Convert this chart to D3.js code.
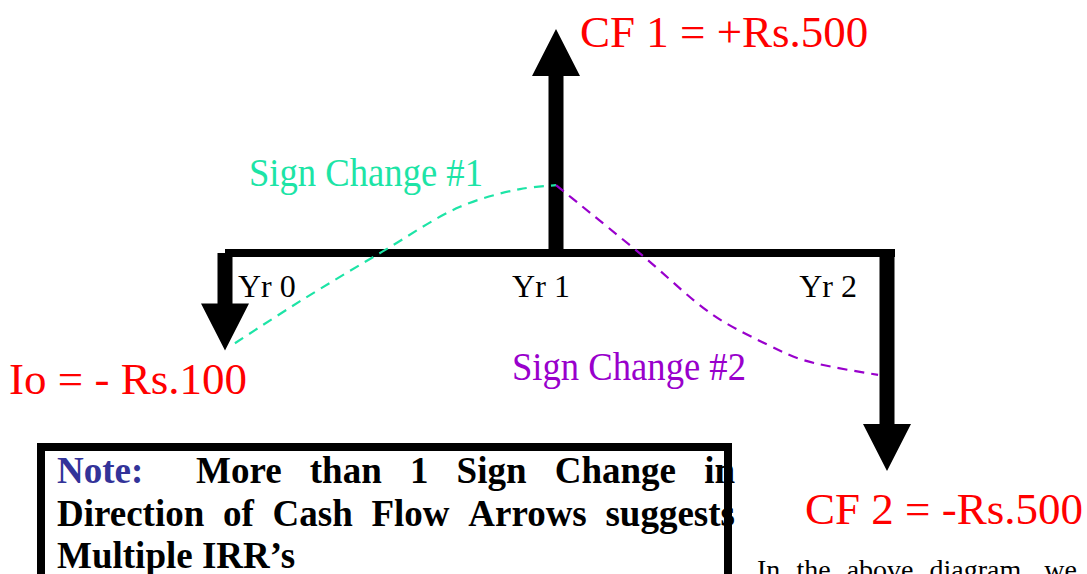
<!DOCTYPE html>
<html>
<head>
<meta charset="utf-8">
<script src="https://cdn.jsdelivr.net/npm/d3@7"></script>
<style>
  body { margin: 0; background: #fff; }
  svg { display: block; }
</style>
</head>
<body>
<div id="drawer"></div>
<script>
// cash flow data
var years = [0, 1, 2];
var yearLabels = ["Yr 0", "Yr 1", "Yr 2"];
var flows = [-100, 500, -500];
var flowLabels = ["Io = - Rs.100", "CF 1 = +Rs.500", "CF 2 = -Rs.500"];

// sign change curves as [year, level]
var signChange1 = [[0.03, -0.414], [0.227, -0.221], [0.474, 0.005], [0.71, 0.212], [0.891, 0.293], [1.0, 0.311]];
var signChange2 = [[1.0, 0.311], [1.066, 0.23], [1.263, -0.014], [1.474, -0.284], [1.637, -0.419], [1.737, -0.486], [1.837, -0.523], [1.973, -0.559]];
var signLabels = ["Sign Change #1", "Sign Change #2"];

var noteLines = [
  ["More", "than", "1", "Sign", "Change", "in"],
  ["Direction", "of", "Cash", "Flow", "Arrows", "suggests"],
  ["Multiple IRR\u2019s"]
];
var bottomWords = ["In", "the", "above", "diagram,", "we"];

var w = 1087, h = 574;
var serif = '"Liberation Serif", "Times New Roman", serif';
var palette = {
  red: "#ff0000",
  teal: "#1de4a6",
  purple: "#9900cc",
  navy: "#333399",
  black: "#000"
};

var vis = d3.select("#drawer").append("svg")
    .attr("width", w)
    .attr("height", h)
    .style("font-family", serif);

var x = d3.scaleLinear().domain([0, 2]).range([225, 887]);
var level = d3.scaleLinear().domain([-1, 1]).range([471, 35]);
var mag = d3.scaleSqrt().domain([0, 500]).range([0, 1]);

var baseY = level(0);
var shaftW = 15, headW = 48, headH = 47, lineW = 8;

function tipY(v) {
  var t = level(Math.sign(v) * mag(Math.abs(v)));
  return v > 0 ? t - 6 : t;
}

// timeline
vis.append("rect")
    .attr("x", x(0))
    .attr("y", baseY - lineW / 2)
    .attr("width", x(2) - x(0) + lineW)
    .attr("height", lineW)
    .style("fill", palette.black);

// arrows
var arrows = vis.selectAll("g.arrow")
    .data(flows)
    .enter()
    .append("g")
    .classed("arrow", true);

arrows.append("path")
    .attr("d", function(d, i) {
      var cx = x(years[i]);
      var t = tipY(d);
      var dir = d < 0 ? 1 : -1;
      var hb = t - dir * headH;
      var p = d3.path();
      p.moveTo(cx - shaftW / 2, baseY);
      p.lineTo(cx + shaftW / 2, baseY);
      p.lineTo(cx + shaftW / 2, hb);
      p.lineTo(cx + headW / 2, hb);
      p.lineTo(cx, t);
      p.lineTo(cx - headW / 2, hb);
      p.lineTo(cx - shaftW / 2, hb);
      p.closePath();
      return p.toString();
    })
    .style("fill", palette.black);

// year labels
vis.selectAll("text.year")
    .data(yearLabels)
    .enter()
    .append("text")
    .attr("class", "year")
    .text(function(d) { return d; })
    .attr("x", function(d, i) { return x(years[i]) + [13, -15, -30][i]; })
    .attr("y", baseY + 44)
    .attr("text-anchor", function(d, i) { return ["start", "middle", "end"][i]; })
    .style("font-size", "32px")
    .style("fill", palette.black);

// cash flow labels
vis.selectAll("text.flow")
    .data(flowLabels)
    .enter()
    .append("text")
    .attr("class", "flow")
    .text(function(d) { return d; })
    .attr("x", function(d, i) { return x(years[i]) + [22, 24, 196][i]; })
    .attr("y", function(d, i) { return tipY(flows[i]) + [44, 18, 53][i]; })
    .attr("text-anchor", function(d, i) { return i === 1 ? "start" : "end"; })
    .style("font-size", "45px")
    .style("fill", palette.red);

// sign change curves
var curve = d3.line()
    .x(function(d) { return x(d[0]); })
    .y(function(d) { return level(d[1]); })
    .curve(d3.curveCatmullRom);

[signChange1, signChange2].forEach(function(pts, i) {
  vis.append("path")
      .attr("d", curve(pts))
      .style("fill", "none")
      .style("stroke", i === 0 ? palette.teal : palette.purple)
      .style("stroke-width", 2.2)
      .style("stroke-dasharray", "10,7");
});

vis.selectAll("text.sign")
    .data(signLabels)
    .enter()
    .append("text")
    .attr("class", "sign")
    .text(function(d) { return d; })
    .attr("x", function(d, i) { return i === 0 ? 249 : 512; })
    .attr("y", function(d, i) { return i === 0 ? 186 : 380; })
    .attr("textLength", 234)
    .attr("lengthAdjust", "spacingAndGlyphs")
    .style("font-size", "39px")
    .style("fill", function(d, i) { return i === 0 ? palette.teal : palette.purple; });

// lay words out across a line, justified
function justify(g, words, x0, x1, y, size, weight) {
  var nodes = words.map(function(word) {
    return g.append("text")
        .text(word)
        .attr("y", y)
        .style("font-size", size)
        .style("font-weight", weight)
        .style("fill", palette.black);
  });
  var widths = nodes.map(function(n) { return n.node().getComputedTextLength(); });
  var gap = words.length > 1 ? (x1 - x0 - d3.sum(widths)) / (words.length - 1) : 0;
  var cur = x0;
  nodes.forEach(function(n, i) {
    n.attr("x", cur);
    cur += widths[i] + gap;
  });
}

// note box
var note = vis.append("g");
note.append("text")
    .text("Note:")
    .attr("x", 57)
    .attr("y", 483)
    .style("font-size", "37px")
    .style("font-weight", "bold")
    .style("fill", palette.navy);
justify(note, noteLines[0], 196, 735, 483, "37px", "bold");
justify(note, noteLines[1], 57, 735, 526, "37px", "bold");
justify(note, noteLines[2], 57, 57, 568, "37px", "bold");

note.append("rect")
    .attr("x", 41)
    .attr("y", 447)
    .attr("width", 687)
    .attr("height", 200)
    .style("fill", "none")
    .style("stroke", palette.black)
    .style("stroke-width", 8);

// running text below the diagram
justify(vis.append("g"), bottomWords, 757, 1077, 579, "28px", "normal");
</script>
</body>
</html>
